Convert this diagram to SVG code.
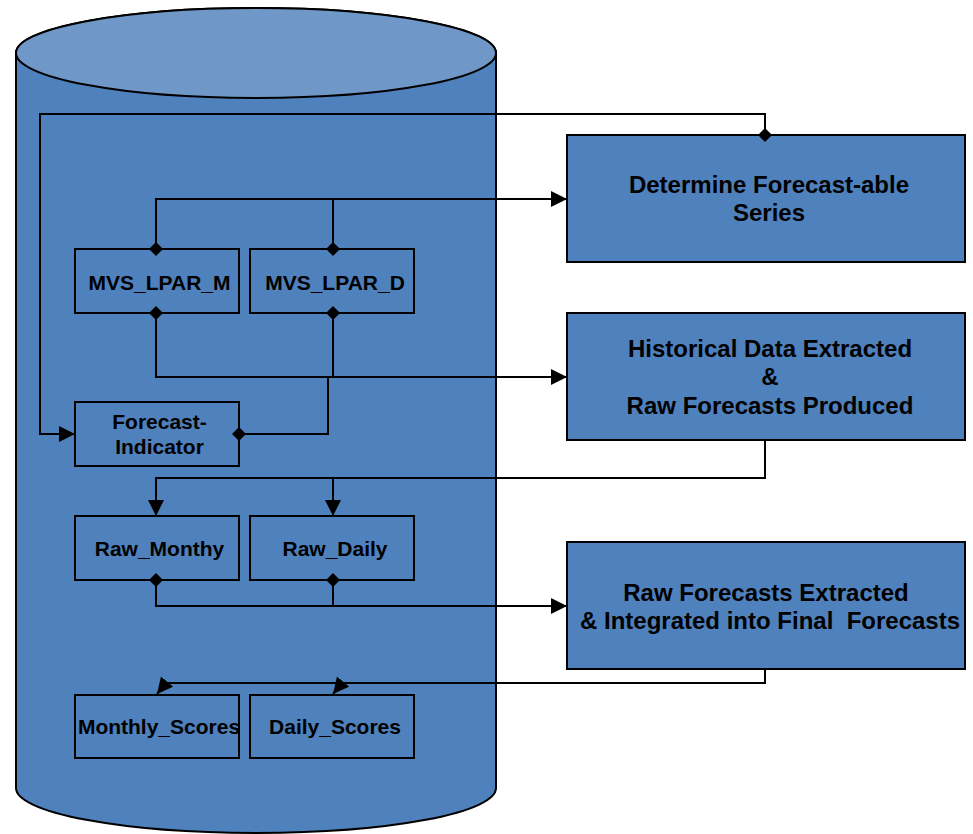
<svg xmlns="http://www.w3.org/2000/svg" width="973" height="834" viewBox="0 0 973 834">
  <style>
    .box { fill: #4f81bd; stroke: #000; stroke-width: 2; }
    .lbl { font-family: "Liberation Sans", Arial, sans-serif; font-weight: bold; fill: #000; text-anchor: middle; }
    .sm { font-size: 21px; }
    .lg { font-size: 24px; }
    .wire { fill: none; stroke: #000; stroke-width: 2; }
  </style>
  <defs>
    <marker id="arrow" markerUnits="userSpaceOnUse" viewBox="0 0 16 16" refX="16" refY="8" markerWidth="16" markerHeight="16" orient="auto">
      <path d="M0,0 L16,8 L0,16 z" fill="#000"/>
    </marker>
    <marker id="diamond" markerUnits="userSpaceOnUse" viewBox="0 0 14 14" refX="7" refY="7" markerWidth="14" markerHeight="14" orient="auto">
      <path d="M7,0 L14,7 L7,14 L0,7 z" fill="#000"/>
    </marker>
  </defs>

  <!-- database cylinder -->
  <g id="database">
    <path d="M16,53 L16,788 A240,45 0 0 0 496,788 L496,53 A240,45 0 0 0 16,53 Z" fill="#4f81bd" stroke="#000" stroke-width="2"/>
    <ellipse cx="256" cy="53" rx="240" ry="45" fill="#6f98c8" stroke="#000" stroke-width="2"/>
  </g>

  <!-- process steps -->
  <g id="determine">
    <rect class="box" x="567" y="135" width="398" height="127"/>
    <text class="lbl lg" x="769" y="193">Determine Forecast-able</text>
    <text class="lbl lg" x="769" y="221">Series</text>
  </g>
  <g id="historical">
    <rect class="box" x="567" y="313" width="398" height="127"/>
    <text class="lbl lg" x="770" y="357">Historical Data Extracted</text>
    <text class="lbl lg" x="770" y="385">&amp;</text>
    <text class="lbl lg" x="770" y="414">Raw Forecasts Produced</text>
  </g>
  <g id="integrate">
    <rect class="box" x="567" y="542" width="398" height="127"/>
    <text class="lbl lg" x="766" y="601">Raw Forecasts Extracted</text>
    <text class="lbl lg" x="770" y="629" xml:space="preserve">&amp; Integrated into Final  Forecasts</text>
  </g>

  <!-- tables -->
  <g id="mvs-lpar-m">
    <rect class="box" x="75" y="249" width="164" height="64"/>
    <text class="lbl sm" x="159.5" y="290">MVS_LPAR_M</text>
  </g>
  <g id="mvs-lpar-d">
    <rect class="box" x="250" y="249" width="164" height="64"/>
    <text class="lbl sm" x="335" y="290">MVS_LPAR_D</text>
  </g>
  <g id="forecast-indicator">
    <rect class="box" x="75" y="402" width="164" height="64"/>
    <text class="lbl sm" x="159.5" y="429">Forecast-</text>
    <text class="lbl sm" x="159.5" y="454">Indicator</text>
  </g>
  <g id="raw-monthly">
    <rect class="box" x="75" y="516" width="164" height="64"/>
    <text class="lbl sm" x="159.5" y="556">Raw_Monthy</text>
  </g>
  <g id="raw-daily">
    <rect class="box" x="250" y="516" width="164" height="64"/>
    <text class="lbl sm" x="335" y="556">Raw_Daily</text>
  </g>
  <g id="monthly-scores">
    <rect class="box" x="75" y="695" width="164" height="63"/>
    <text class="lbl sm" x="159" y="734">Monthly_Scores</text>
  </g>
  <g id="daily-scores">
    <rect class="box" x="250" y="695" width="164" height="63"/>
    <text class="lbl sm" x="335" y="734">Daily_Scores</text>
  </g>

  <!-- connectors -->
  <g id="connectors" class="wire">
    <path d="M765,135 L765,114 L40,114 L40,434 L75,434" marker-start="url(#diamond)" marker-end="url(#arrow)"/>
    <path d="M156,249 L156,199 L567,199" marker-start="url(#diamond)" marker-end="url(#arrow)"/>
    <path d="M333,249 L333,199" marker-start="url(#diamond)"/>
    <path d="M156,313 L156,377 L567,377" marker-start="url(#diamond)" marker-end="url(#arrow)"/>
    <path d="M333,313 L333,377" marker-start="url(#diamond)"/>
    <path d="M239,434 L328,434 L328,377" marker-start="url(#diamond)"/>
    <path d="M765,440 L765,478 L156,478 L156,516" marker-end="url(#arrow)"/>
    <path d="M333,478 L333,516" marker-end="url(#arrow)"/>
    <path d="M156,580 L156,606 L567,606" marker-start="url(#diamond)" marker-end="url(#arrow)"/>
    <path d="M333,580 L333,606" marker-start="url(#diamond)"/>
    <path d="M765,669 L765,683 L166,683 L157,694" marker-end="url(#arrow)"/>
    <path d="M342,683 L333,694" marker-end="url(#arrow)"/>
  </g>
</svg>
